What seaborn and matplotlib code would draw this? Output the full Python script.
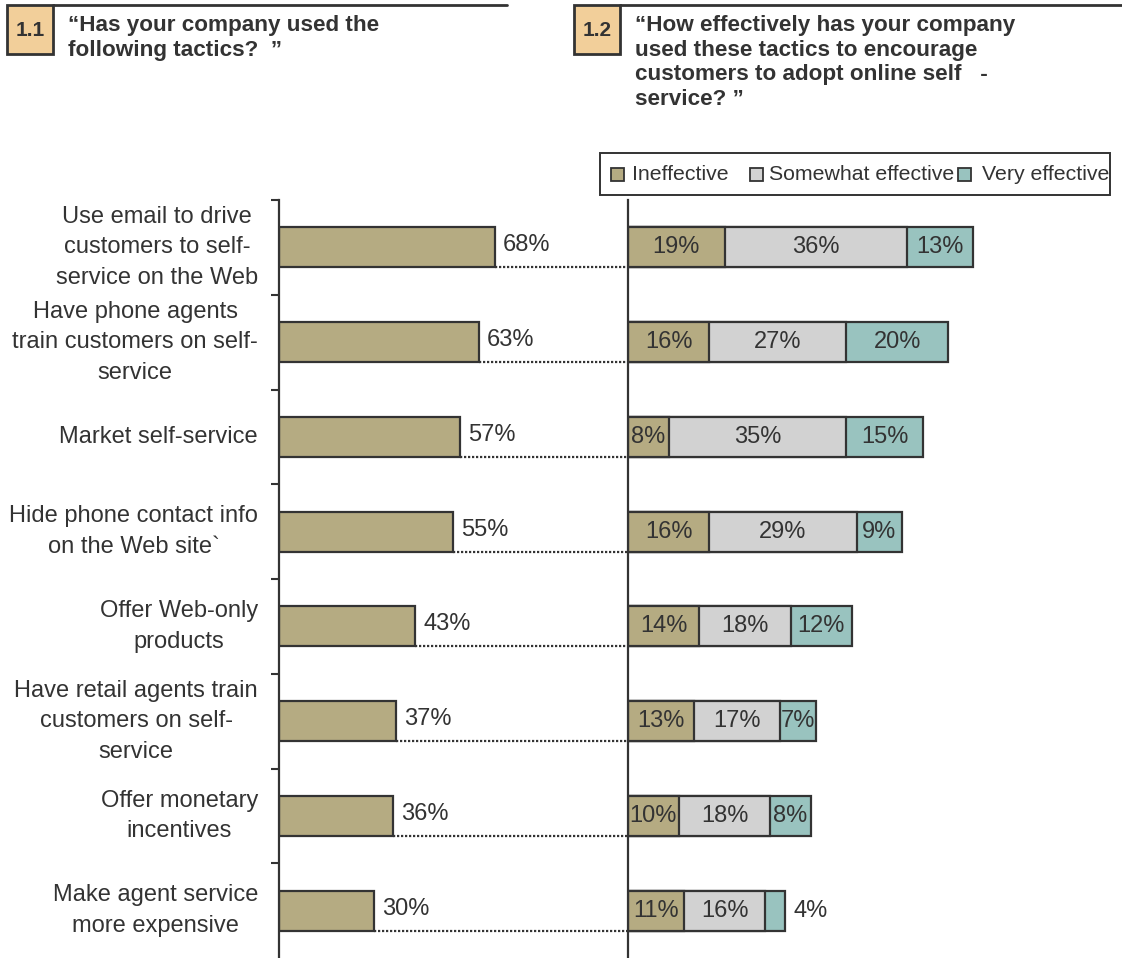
import matplotlib
matplotlib.use("Agg")
import matplotlib.pyplot as plt
from matplotlib.patches import Rectangle
from matplotlib.lines import Line2D
import seaborn as sns
import pandas as pd
import numpy as np

# --- data ---------------------------------------------------------------
tactics = [
    "Use email to drive\ncustomers to self-\nservice on the Web",
    "Have phone agents\ntrain customers on self-\nservice",
    "Market self-service",
    "Hide phone contact info\non the Web site`",
    "Offer Web-only\nproducts",
    "Have retail agents train\ncustomers on self-\nservice",
    "Offer monetary\nincentives",
    "Make agent service\nmore expensive",
]
used_pct = [68, 63, 57, 55, 43, 37, 36, 30]

ineffective = [19, 16, 8, 16, 14, 13, 10, 11]
somewhat = [36, 27, 35, 29, 18, 17, 18, 16]
very = [13, 20, 15, 9, 12, 7, 8, 4]

series_names = ["Ineffective", "Somewhat effective", "Very effective"]

title_left = "\u201cHas your company used the\nfollowing tactics?  \u201d"
title_right = ("\u201cHow effectively has your company\nused these tactics to encourage\n"
               "customers to adopt online self   -\nservice? \u201d")

# --- style --------------------------------------------------------------
sns.set_theme(style="white")
plt.rcParams["font.family"] = ["Liberation Sans", "DejaVu Sans"]

TEXT = "#333333"
EDGE = "#333333"
TAN = "#B5AB82"
GREY = "#D2D2D2"
TEAL = "#99C3BF"
BOX = "#F2CF9A"

W, H = 1122, 958
fig = plt.figure(figsize=(W / 100, H / 100), dpi=100)

def fx(px):
    return px / W

def fy(py):
    return 1 - py / H

ax_top, ax_bot = 200, 958
ax_l = fig.add_axes([fx(279), fy(ax_bot), fx(628 - 279), (ax_bot - ax_top) / H])
ax_r = fig.add_axes([fx(628), fy(ax_bot), fx(1115 - 628), (ax_bot - ax_top) / H])

scale_l = 3.17   # px per percent
scale_r = 5.08
xmax_l = (628 - 279) / scale_l
xmax_r = (1115 - 628) / scale_r

bar_h = 0.42
df_l = pd.DataFrame({"tactic": tactics, "pct": used_pct})

# --- left panel: share of companies using each tactic -------------------
sns.barplot(data=df_l, y="tactic", x="pct", orient="h", ax=ax_l,
            color=TAN, width=bar_h, edgecolor=EDGE, linewidth=1.6,
            saturation=1)
ax_l.set_xlim(0, xmax_l)
ax_l.set_ylim(len(tactics) - 0.5, -0.5)
for i, v in enumerate(used_pct):
    ax_l.text(v + 8 / scale_l, i - 0.02, f"{v}%", va="center", ha="left",
              fontsize=17, color=TEXT)
    ax_l.plot([v, xmax_l], [i + bar_h / 2, i + bar_h / 2], color=EDGE,
              lw=1.6, linestyle=(0, (1, 0.8)), clip_on=False, zorder=3)

ax_l.set_xlabel("")
ax_l.set_ylabel("")
ax_l.set_xticks([])
ax_l.set_yticks(np.arange(-0.5, len(tactics) - 0.5, 1.0))
ax_l.set_yticklabels([])
ax_l.tick_params(axis="y", which="major", direction="out", length=6,
                 width=1.5, color=EDGE, left=True)
for i, lab in enumerate(tactics):
    ax_l.text(-21 / scale_l, i, lab, ha="right", va="center",
              multialignment="center", fontsize=17, color=TEXT,
              linespacing=1.5)
for s in ["top", "right", "bottom"]:
    ax_l.spines[s].set_visible(False)
ax_l.spines["left"].set_color(EDGE)
ax_l.spines["left"].set_linewidth(1.6)

# --- right panel: stacked effectiveness ratings -------------------------
cum1 = np.array(ineffective)
cum2 = cum1 + np.array(somewhat)
cum3 = cum2 + np.array(very)
for vals, col in [(cum3, TEAL), (cum2, GREY), (cum1, TAN)]:
    sns.barplot(x=vals, y=tactics, orient="h", ax=ax_r, color=col,
                width=bar_h, edgecolor=EDGE, linewidth=1.6, saturation=1)
ax_r.set_xlim(0, xmax_r)
ax_r.set_ylim(len(tactics) - 0.5, -0.5)

for i in range(len(tactics)):
    segs = [(0, ineffective[i]), (cum1[i], somewhat[i]), (cum2[i], very[i])]
    for k, (start, w) in enumerate(segs):
        if w >= 5:
            ax_r.text(start + w / 2, i, f"{w}%", ha="center", va="center",
                      fontsize=17, color=TEXT)
        else:
            ax_r.text(start + w + 8 / scale_r, i, f"{w}%", ha="left",
                      va="center", fontsize=17, color=TEXT)

ax_r.set_xlabel("")
ax_r.set_ylabel("")
ax_r.set_xticks([])
ax_r.set_yticks([])
for s in ["top", "right", "bottom"]:
    ax_r.spines[s].set_visible(False)
ax_r.spines["left"].set_color(EDGE)
ax_r.spines["left"].set_linewidth(1.6)

# --- legend (fixed-width columns) ---------------------------------------
fig.patches.append(Rectangle((fx(600), fy(195)), fx(510), 42 / H,
                             transform=fig.transFigure, facecolor="white",
                             edgecolor=EDGE, linewidth=1.4))
for name, col, sq_x, txt_x in zip(series_names, [TAN, GREY, TEAL],
                                  [611, 750, 958], [632, 769, 982]):
    fig.patches.append(Rectangle((fx(sq_x), fy(181)), fx(13), 13 / H,
                                 transform=fig.transFigure, facecolor=col,
                                 edgecolor=EDGE, linewidth=1.3))
    fig.text(fx(txt_x), fy(175), name, ha="left", va="center",
             fontsize=15.3, color=TEXT)

# --- headers -------------------------------------------------------------
for (x0, x1), num, ttl in [((7, 53), "1.1", title_left),
                           ((574, 620), "1.2", title_right)]:
    fig.patches.append(Rectangle((fx(x0), fy(54)), fx(x1 - x0), 49 / H,
                                 transform=fig.transFigure, facecolor=BOX,
                                 edgecolor=EDGE, linewidth=2))
    fig.text(fx((x0 + x1) / 2), fy(30), num, ha="center", va="center",
             fontsize=15, fontweight="bold", color=TEXT)
    fig.text(fx(x1 + 15), fy(15), ttl, ha="left", va="top", fontsize=16.2,
             fontweight="bold", color=TEXT, linespacing=1.22)

fig.lines.append(Line2D([fx(53), fx(507)], [fy(5), fy(5)],
                        transform=fig.transFigure, color=EDGE, lw=2))
fig.lines.append(Line2D([fx(620), fx(1122)], [fy(5), fy(5)],
                        transform=fig.transFigure, color=EDGE, lw=2))

fig.savefig("out.png", dpi=100)
